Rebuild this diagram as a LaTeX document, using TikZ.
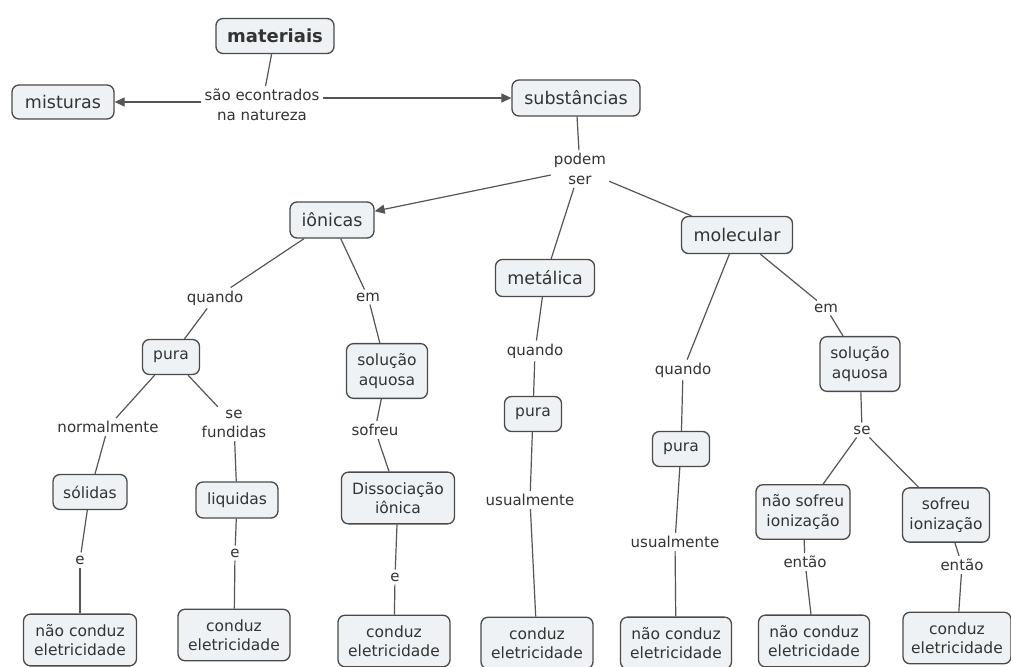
\documentclass[tikz,border=0pt]{standalone}
\usepackage{fontspec}
\setmainfont{DejaVu Sans}
\usetikzlibrary{arrows.meta}
\definecolor{boxfill}{HTML}{EEF2F4}
\definecolor{boxline}{HTML}{4A4A4A}
\definecolor{wire}{HTML}{555555}
\definecolor{txt}{HTML}{333333}
\tikzset{
  concept/.style={draw=boxline, fill=boxfill, rounded corners=7pt, line width=1.3pt,
    text=txt, font=\fontsize{15.5}{19.5}\selectfont, inner xsep=6pt, inner ysep=10pt,
    minimum height=35pt, align=center},
  bigconcept/.style={concept, font=\fontsize{17.5}{21}\selectfont, minimum height=36pt},
  linkph/.style={text=txt, font=\fontsize{15}{19.5}\selectfont, inner sep=3pt, align=center},
  conn/.style={draw=wire, line width=1.2pt},
  arr/.style={conn, -{Triangle[length=10pt,width=9pt]}}
}
\begin{document}
\begin{tikzpicture}[x=1pt,y=-1pt]
\clip (0,0) rectangle (1011,666);
\fill[white] (0,0) rectangle (1011,666);

% concepts
\node[bigconcept, font=\bfseries\fontsize{18}{21}\selectfont, minimum width=118pt, minimum height=35pt] (mat) at (275,36) {materiais};
\node[bigconcept, minimum width=102pt, minimum height=34pt] (mist) at (63,102) {misturas};
\node[bigconcept, minimum width=128pt] (subs) at (576,98) {substâncias};
\node[bigconcept, minimum width=84pt] (ion) at (332,220) {iônicas};
\node[bigconcept, minimum width=99pt, minimum height=37pt] (met) at (545,278) {metálica};
\node[bigconcept, minimum width=111pt, minimum height=37pt] (mol) at (737,235) {molecular};
\node[concept, minimum width=57pt] (pura1) at (171,357) {pura};
\node[concept, minimum width=81pt] (sol1) at (387,371) {solução\\aquosa};
\node[concept, minimum width=57pt] (pura2) at (533,414) {pura};
\node[concept, minimum width=57pt] (pura3) at (681,449) {pura};
\node[concept, minimum width=80pt] (sol2) at (860,364) {solução\\aquosa};
\node[concept, minimum width=74pt] (solid) at (90,492) {sólidas};
\node[concept, minimum width=82pt, minimum height=36pt] (liq) at (237,500) {liquidas};
\node[concept, minimum width=113pt] (diss) at (398,498) {Dissociação\\iônica};
\node[concept, minimum width=88pt] (nsi) at (803,512) {não sofreu\\ionização};
\node[concept, minimum width=87pt] (si) at (946,515) {sofreu\\ionização};
\node[concept, minimum width=113pt] (b1) at (80,640) {não conduz\\eletricidade};
\node[concept, minimum width=112pt] (b2) at (234,635) {conduz\\eletricidade};
\node[concept, minimum width=112pt] (b3) at (394,641) {conduz\\eletricidade};
\node[concept, minimum width=112pt] (b4) at (537,643) {conduz\\eletricidade};
\node[concept, minimum width=111pt] (b5) at (676,643) {não conduz\\eletricidade};
\node[concept, minimum width=111pt] (b6) at (814,641) {não conduz\\eletricidade};
\node[concept, minimum width=108pt] (b7) at (957,638) {conduz\\eletricidade};

% linking phrases
\node[linkph] (enc) at (262,105) {são econtrados\\na natureza};
\node[linkph] (pod) at (580,169) {podem\\ser};
\node[linkph] (q1) at (215,298) {quando};
\node[linkph] (em1) at (368,297) {em};
\node[linkph] (q2) at (535,351) {quando};
\node[linkph] (q3) at (683,370) {quando};
\node[linkph] (em2) at (826,308) {em};
\node[linkph] (se) at (862,430) {se};
\node[linkph] (norm) at (108,427) {normalmente};
\node[linkph] (fund) at (234,424) {se\\fundidas};
\node[linkph] (sofr) at (375,430) {sofreu};
\node[linkph] (us1) at (530,500) {usualmente};
\node[linkph] (us2) at (675,542) {usualmente};
\node[linkph] (e1) at (80,560) {e};
\node[linkph] (e2) at (235,553) {e};
\node[linkph] (e3) at (395,577) {e};
\node[linkph] (ent1) at (805,562) {então};
\node[linkph] (ent2) at (962,565) {então};

% connectors
\draw[conn] (mat) -- (enc);
\draw[arr] (enc.west |- mist.east) -- (mist.east);
\draw[arr] (enc.east |- subs.west) -- (subs.west);
\draw[conn] (subs) -- (pod);
\draw[arr] (pod) -- (ion);
\draw[conn] (pod) -- (met);
\draw[conn] (pod) -- (mol);

\draw[conn] (ion) -- (q1);
\draw[conn] (q1) -- (pura1);
\draw[conn] (ion) -- (em1);
\draw[conn] (em1) -- (sol1);
\draw[conn] (pura1) -- (norm);
\draw[conn] (norm) -- (solid);
\draw[conn] (pura1) -- (fund);
\draw[conn] (fund) -- (liq);
\draw[conn] (solid) -- (e1);
\draw[conn] (e1) -- (b1);
\draw[conn] (liq) -- (e2);
\draw[conn] (e2) -- (b2);
\draw[conn] (sol1) -- (sofr);
\draw[conn] (sofr) -- (diss);
\draw[conn] (diss) -- (e3);
\draw[conn] (e3) -- (b3);

\draw[conn] (met) -- (q2);
\draw[conn] (q2) -- (pura2);
\draw[conn] (pura2) -- (us1);
\draw[conn] (us1) -- (b4);

\draw[conn] (mol) -- (q3);
\draw[conn] (q3) -- (pura3);
\draw[conn] (pura3) -- (us2);
\draw[conn] (us2) -- (b5);
\draw[conn] (mol) -- (em2);
\draw[conn] (em2) -- (sol2);
\draw[conn] (sol2) -- (se);
\draw[conn] (se) -- (nsi);
\draw[conn] (se) -- (si);
\draw[conn] (nsi) -- (ent1);
\draw[conn] (ent1) -- (b6);
\draw[conn] (si) -- (ent2);
\draw[conn] (ent2) -- (b7);
\end{tikzpicture}
\end{document}
